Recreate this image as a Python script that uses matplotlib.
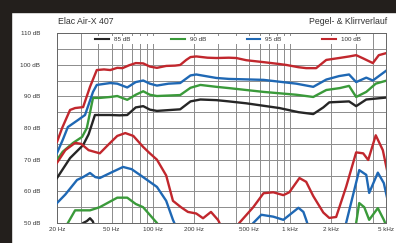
import numpy as np
import matplotlib
matplotlib.use('Agg')
import matplotlib.pyplot as plt
from matplotlib.patches import Rectangle
from matplotlib.lines import Line2D

plt.rcParams['font.family'] = ['Liberation Sans', 'DejaVu Sans']

# Grundton (Pegelverlauf) fuer 85/90/95/100 dB
f_85 = [20, 24.9, 31, 34, 37.8, 41, 48.9, 57, 65, 75, 85, 95, 107, 158, 188, 222, 290, 358, 479,
        836, 1150, 1475, 1746, 1930, 2690, 3030, 3590, 4980]
l_85 = [64.2, 70.5, 74.6, 78, 84.1, 84.1, 84.1, 84.0, 84.1, 86.5, 86.9, 85.8, 85.4, 85.9, 88.4, 89.0,
        88.8, 88.4, 87.8, 86.3, 85.0, 84.4, 86.5, 88.1, 88.4, 86.9, 89.0, 89.6]

f_90 = [20, 22, 26.2, 30.5, 33, 36.6, 41, 48.9, 55, 65, 75, 85, 95, 107, 158, 188, 222, 290, 358,
        640, 1110, 1475, 1836, 2300, 2690, 3030, 3590, 4210, 4980]
l_90 = [69.9, 72.5, 75.3, 77.2, 80, 89.5, 89.5, 89.8, 90.1, 88.9, 90.5, 91.6, 90.5, 90.1, 90.4,
        92.7, 93.6, 93.0, 92.6, 91.4, 90.5, 89.8, 92.0, 92.6, 93.3, 89.8, 91.4, 94.0, 94.9]

f_95 = [20, 22, 24, 28.4, 32, 36.6, 39, 48.9, 55, 65, 75, 85, 95, 107, 130, 158, 188, 207, 290,
        358, 640, 1110, 1475, 1836, 2276, 2690, 3030, 3590, 4010, 4980]
l_95 = [72.1, 76.2, 80.3, 82.5, 84.1, 91.4, 93.6, 94.2, 94.0, 92.8, 94.5, 95.0, 94.0, 93.4, 94.0,
        94.2, 96.6, 96.9, 95.8, 95.5, 95.2, 94.0, 93.0, 95.3, 96.4, 96.9, 94.5, 95.9, 95.0, 98.0]

f_100 = [20, 21.8, 24.9, 27.1, 31, 34.8, 39, 44, 48.9, 55, 60, 67, 75, 85, 95, 107, 125, 145, 158,
         175, 188, 207, 250, 290, 358, 405, 480, 640, 836, 940, 1150, 1310, 1548, 1836, 2276, 2700,
         3030, 3400, 4010, 4430, 4980]
l_100 = [75.6, 80, 85.7, 86.3, 86.6, 93, 98.3, 98.5, 98.3, 99, 98.9, 99.8, 100.5, 100.4, 99.4, 99.0,
         99.6, 99.7, 99.9, 101.5, 102.4, 102.6, 102.2, 102.1, 102.2, 102.1, 101.4, 100.8, 100.2,
         99.9, 99.2, 98.9, 98.9, 101.5, 102.1, 102.6, 103.0, 102.0, 100.5, 103.0, 103.6]

# Klirr (Verzerrungen)
fk_85 = [29, 31, 33, 34.8, 36.5, 38]
lk_85 = [48, 50, 50.6, 51.5, 50.5, 48]

fk_90 = [22.5, 24, 27.1, 34.8, 41, 55, 65, 75, 84.8, 107, 115, 2900, 3030, 3190, 3470, 3770,
         4360, 4820, 5150]
lk_90 = [48, 50, 54, 54, 55, 58, 58, 56, 55, 50, 48, 47, 50, 56.3, 55, 51, 54.7, 51, 48]

fk_95 = [20, 23, 28, 31, 34.8, 38, 41, 50, 60.6, 70, 84.8, 107, 125, 140, 150, 470, 539, 617, 754,
         893, 1150, 1250, 1310, 1400, 2400, 2560, 3190, 3590, 3770, 4360, 4820, 5150]
lk_95 = [56.3, 59, 63.6, 64.5, 65.8, 64.5, 64.2, 66, 67.7, 67, 64.5, 61.4, 57, 51, 48, 47, 50,
         52.6, 52, 51, 54.8, 53.5, 51, 47, 47, 50, 66.7, 65.2, 59.5, 65.9, 62.6, 57]

fk_100 = [20, 23, 27.1, 30, 34, 41, 48, 55, 62.9, 72, 85, 95, 107, 125, 140, 160, 180, 207, 232,
          265, 299, 330, 400, 426, 539, 640, 754, 893, 987, 1170, 1310, 1475, 1746, 1930, 2166,
          2560, 3030, 3410, 3710, 4210, 4740, 5150]
lk_100 = [69, 73, 75.3, 75.0, 73, 72, 75, 77.5, 78.4, 77.5, 74, 72, 70, 65, 57, 55, 53.5, 53,
          51.5, 53.5, 50.9, 47, 47, 50, 55, 59.4, 59.7, 58.8, 59.7, 64.2, 63, 58.5, 53.3, 51.6,
          51.9, 61.4, 72.3, 72, 69.9, 77.7, 73, 65.6]

legend_labels = ['85 dB', '90 dB', '95 dB', '100 dB']
colors = ['#262626', '#3a9a3a', '#1f68b4', '#c1272d']

xticks = [20, 50, 100, 200, 500, 1000, 2000, 5000]
xticklabels = ['20 Hz', '50 Hz', '100 Hz', '200 Hz', '500 Hz', '1 kHz', '2 kHz', '5 kHz']
yticks = [50, 60, 70, 80, 90, 100, 110]
yticklabels = ['50 dB', '60 dB', '70 dB', '80 dB', '90 dB', '100 dB', '110 dB']

fig = plt.figure(figsize=(3.96, 2.43), dpi=100, facecolor='white')
# dunkler Rand oben und links
fig.patches.append(Rectangle((0, 1 - 12 / 243), 1, 12 / 243, transform=fig.transFigure,
                             color='#231f1c', zorder=0))
fig.patches.append(Rectangle((0, 0), 11 / 396, 1, transform=fig.transFigure,
                             color='#231f1c', zorder=0))

ax = fig.add_axes([57 / 396, 20 / 243, 329 / 396, 190 / 243])
ax.set_xscale('log')
ax.set_xlim(20, 5000)
ax.set_ylim(50, 110)

# Gitter
vgrid = [20, 30, 40, 50, 60, 70, 80, 90, 100, 200, 300, 400, 500, 600, 700, 800, 900,
         1000, 2000, 3000, 4000, 5000]
for v in vgrid:
    ax.axvline(v, color='#8c8c8c', lw=0.7, zorder=1)
for h in range(50, 111, 5):
    ax.axhline(h, color='#8c8c8c', lw=0.7, zorder=1)

series = [(f_85, l_85, fk_85, lk_85), (f_90, l_90, fk_90, lk_90),
          (f_95, l_95, fk_95, lk_95), (f_100, l_100, fk_100, lk_100)]
for (f, l, fk, lk), c in zip(series, colors):
    ax.plot(f, l, color=c, lw=1.7, zorder=3, solid_joinstyle='round')
    ax.plot(fk, lk, color=c, lw=1.7, zorder=3, solid_joinstyle='round')

ax.set_xticks(xticks)
ax.set_xticklabels(xticklabels)
ax.set_yticks(yticks)
ax.set_yticklabels(yticklabels)
ax.minorticks_off()
ax.tick_params(length=0, labelsize=4.5, colors='#333333', pad=12)
ax.tick_params(axis='x', pad=3)
for s in ax.spines.values():
    s.set_color('#666666')
    s.set_linewidth(0.7)

handles = [Line2D([0], [0], color=c, lw=1.5) for c in colors]
leg = ax.legend(handles, legend_labels, ncol=4, loc='upper center', bbox_to_anchor=(0.52, 0.985),
                fontsize=4.5, frameon=True, handlelength=2.2, columnspacing=6.5,
                handletextpad=0.8, borderpad=0.2, borderaxespad=0)
leg.get_frame().set_facecolor('white')
leg.get_frame().set_edgecolor('none')
leg.get_frame().set_alpha(1)
for t in leg.get_texts():
    t.set_color('#333333')

fig.text(58 / 396, 1 - 21 / 243, 'Elac Air-X 407', fontsize=6.3, color='#333333',
         ha='left', va='center')
fig.text(387 / 396, 1 - 21 / 243, 'Pegel- & Klirrverlauf', fontsize=6.3, color='#333333',
         ha='right', va='center')

fig.savefig('out.png', dpi=100, facecolor='white')
